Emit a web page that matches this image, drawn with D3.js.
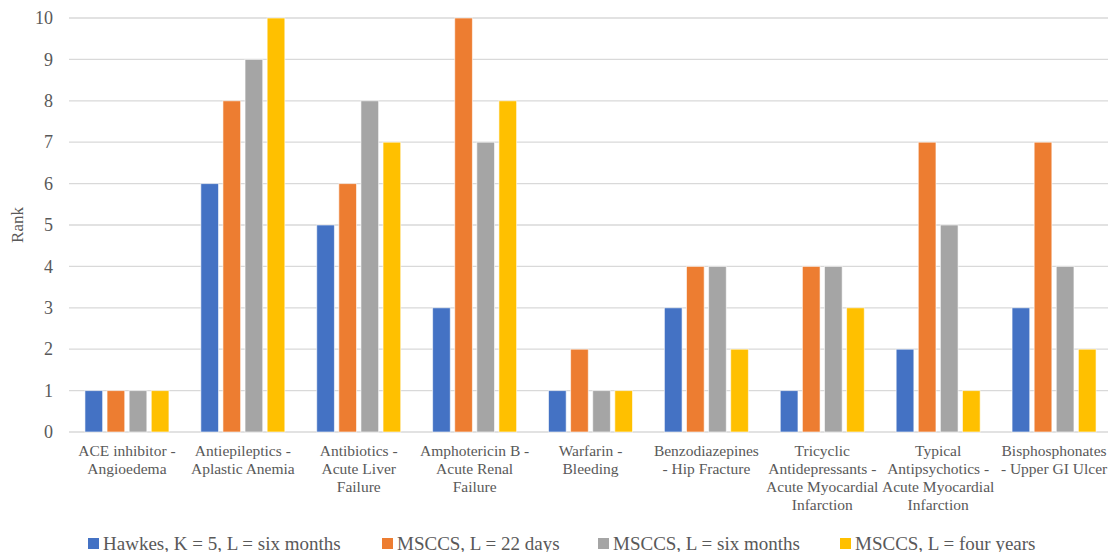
<!DOCTYPE html>
<html><head><meta charset="utf-8">
<script src="https://cdn.jsdelivr.net/npm/d3@7"></script>
<style>body{margin:0;background:#fff}svg{display:block}</style>
</head><body><svg id="c" width="1110" height="552"></svg>
<script>
const categories = [
  ["ACE inhibitor -","Angioedema"],
  ["Antiepileptics -","Aplastic Anemia"],
  ["Antibiotics -","Acute Liver","Failure"],
  ["Amphotericin B -","Acute Renal","Failure"],
  ["Warfarin  -","Bleeding"],
  ["Benzodiazepines","- Hip Fracture"],
  ["Tricyclic","Antidepressants -","Acute Myocardial","Infarction"],
  ["Typical","Antipsychotics -","Acute Myocardial","Infarction"],
  ["Bisphosphonates","- Upper GI Ulcer"]
];
const seriesNames = ["Hawkes, K = 5, L = six months","MSCCS, L = 22 days","MSCCS, L = six months","MSCCS, L = four years"];
const hawkes = [1,6,5,3,1,3,1,2,3];
const msccs22 = [1,8,6,10,2,4,4,7,7];
const msccs6m = [1,9,8,7,1,4,4,5,4];
const msccs4y = [1,10,7,8,1,2,3,1,2];
const yTicks = [0,1,2,3,4,5,6,7,8,9,10];
const colors = ["#4472C4","#ED7D31","#A5A5A5","#FFC000"];
const series = [hawkes, msccs22, msccs6m, msccs4y];
const FONT = '"Liberation Serif"';

const svg = d3.select("#c");
const pLeft = 69, pRight = 1112, pTop = 18, pBottom = 432;
const x = d3.scaleBand().domain(d3.range(categories.length)).range([pLeft, pRight]).paddingInner(0).paddingOuter(0);
const y = d3.scaleLinear().domain([0,10]).range([pBottom, pTop]);
const xs = d3.scaleBand().domain(d3.range(4)).range([0, 84]).paddingInner(0.2);

// grid
svg.append("g").selectAll("line").data(yTicks).join("line")
  .attr("x1", pLeft).attr("x2", 1108)
  .attr("y1", d=>y(d)).attr("y2", d=>y(d))
  .attr("stroke", "#d9d9d9").attr("stroke-width", 1.3);

// y axis labels
const yAxis = d3.axisLeft(y).tickValues(yTicks).tickSize(0).tickPadding(16);
const ga = svg.append("g").attr("transform", `translate(${pLeft},0)`).call(yAxis);
ga.attr("font-family", null).attr("font-size", null);
ga.select(".domain").remove();
ga.selectAll("text").attr("fill", "#595959").style("font-family", FONT).style("font-size", "18px");

// bars
categories.forEach((c, i) => {
  const g = svg.append("g").attr("transform", `translate(${x(i) + x.bandwidth()/2 - 42},0)`);
  g.selectAll("rect").data(series.map((s, k) => ({k, v: s[i]}))).join("rect")
    .attr("x", d => xs(d.k)).attr("width", xs.bandwidth())
    .attr("y", d => y(d.v)).attr("height", d => y(0) - y(d.v))
    .attr("fill", d => colors[d.k])
    .attr("stroke", "#fff").attr("stroke-opacity", 0.6).attr("stroke-width", 1);
});

// category labels
categories.forEach((lines, i) => {
  const t = svg.append("text").attr("text-anchor", "middle").attr("fill", "#595959")
    .style("font-family", FONT).style("font-size", "15.5px");
  lines.forEach((l, j) => t.append("tspan").attr("x", x(i) + x.bandwidth()/2).attr("y", 456 + j*18).text(l));
});

// y title
svg.append("text").attr("transform", "translate(23,225) rotate(-90)").attr("text-anchor", "middle")
  .attr("fill", "#595959").style("font-family", FONT).style("font-size", "17px").text("Rank");

// legend
const lx = [88, 382, 598, 840];
seriesNames.forEach((n, k) => {
  svg.append("rect").attr("x", lx[k]).attr("y", 538).attr("width", 11).attr("height", 11).attr("fill", colors[k]);
  svg.append("text").attr("x", lx[k] + 15).attr("y", 550).attr("fill", "#595959")
    .style("font-family", FONT).style("font-size", "19px").text(n);
});
</script></body></html>
